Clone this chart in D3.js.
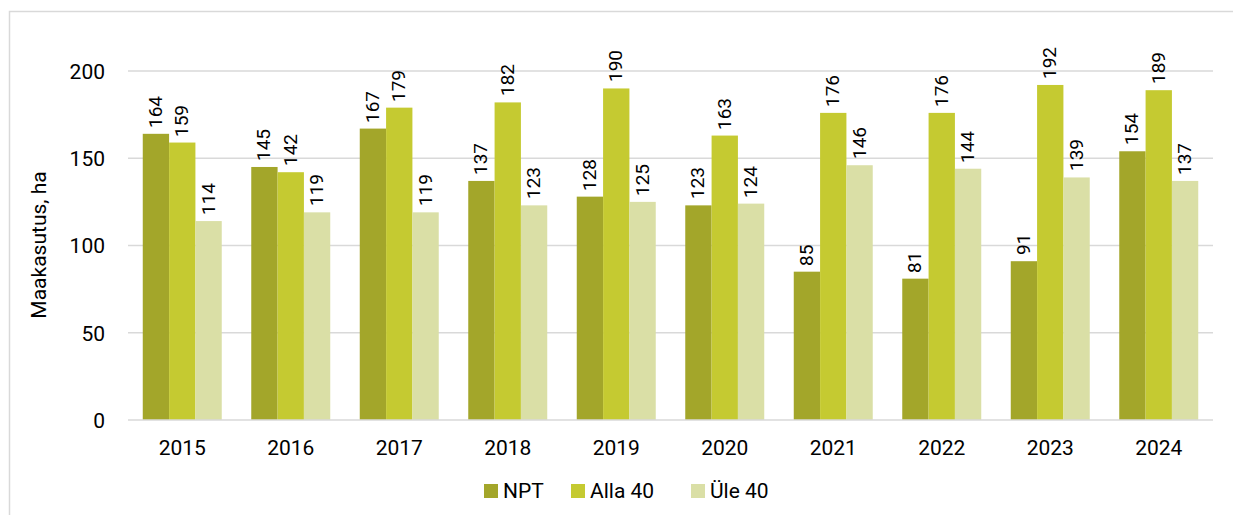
<!DOCTYPE html>
<html>
<head>
<meta charset="utf-8">
<script src="https://cdn.jsdelivr.net/npm/d3@7"></script>
<style>
  html, body { margin: 0; padding: 0; background: #fff; }
  #wrap { position: relative; width: 1233px; height: 515px; font-family: Roboto, "Liberation Sans", sans-serif; }
  svg { display: block; position: absolute; left: 0; top: 0; }
  svg text { fill: #000; }
  .vlabel {
    position: absolute; font-size: 19px; line-height: 1; color: #000; white-space: nowrap;
    transform-origin: 0 0; transform: rotate(-90deg);
  }
</style>
</head>
<body>
<div id="wrap"><svg id="chart" width="1233" height="515"></svg></div>
<script>
// Land use by year and applicant group
const years = ["2015", "2016", "2017", "2018", "2019", "2020", "2021", "2022", "2023", "2024"];
const seriesNames = ["NPT", "Alla 40", "Üle 40"];
const npt    = [164, 145, 167, 137, 128, 123, 85, 81, 91, 154];
const alla40 = [159, 142, 179, 182, 190, 163, 176, 176, 192, 189];
const yle40  = [114, 119, 119, 123, 125, 124, 146, 144, 139, 137];
const yTicks = [0, 50, 100, 150, 200];
const colors = ["#A3A62A", "#C5CA31", "#DADFA6"];

const seriesValues = [npt, alla40, yle40];
const rows = years.map((y, i) => ({ year: y, values: seriesValues.map(s => s[i]) }));

const svg = d3.select("#chart");

// outer frame
svg.append("rect")
  .attr("x", 9.5).attr("y", 11.5)
  .attr("width", 1240).attr("height", 520)
  .attr("fill", "none").attr("stroke", "#d9d9d9").attr("stroke-width", 1.5);

const plot = { left: 128, right: 1213, top: 71, bottom: 420 };

const x = d3.scaleBand().domain(years).range([plot.left, plot.right]).paddingInner(0.272).paddingOuter(0.136);
const xs = d3.scaleBand().domain(seriesNames).range([0, x.bandwidth()]);
const y = d3.scaleLinear().domain([0, 200]).range([plot.bottom, plot.top]);

// gridlines
svg.append("g").selectAll("line").data(yTicks.filter(t => t > 0)).join("line")
  .attr("x1", plot.left).attr("x2", plot.right)
  .attr("y1", d => y(d)).attr("y2", d => y(d))
  .attr("stroke", "#d9d9d9").attr("stroke-width", 1.5);

// y axis labels
const yAxis = d3.axisLeft(y).tickValues(yTicks).tickSize(0).tickPadding(0);
const yg = svg.append("g").attr("transform", `translate(${plot.left - 23},0)`).call(yAxis);
yg.attr("font-size", 21).attr("font-family", null);
yg.select(".domain").remove();
yg.selectAll("text").attr("dy", "0.35em");

// y title
svg.append("text")
  .attr("transform", "translate(46,245) rotate(-90)")
  .attr("text-anchor", "middle")
  .attr("font-size", 21)
  .text("Maakasutus, ha");

// bars
const flat = rows.flatMap(r => r.values.map((v, i) => ({ year: r.year, v, i })));
svg.append("g").selectAll("rect").data(flat).join("rect")
  .attr("x", d => x(d.year) + xs(seriesNames[d.i]))
  .attr("width", xs.bandwidth())
  .attr("y", d => y(d.v))
  .attr("height", d => y(0) - y(d.v))
  .attr("fill", d => colors[d.i]);

// value labels, rotated to read upwards (HTML overlay)
d3.select("#wrap").selectAll("div.vlabel").data(flat).join("div")
  .attr("class", "vlabel")
  .style("left", d => (x(d.year) + xs(seriesNames[d.i]) + xs.bandwidth() / 2 - 10) + "px")
  .style("top", d => (y(d.v) - 6) + "px")
  .text(d => d.v);

// x axis baseline
svg.append("line")
  .attr("x1", plot.left).attr("x2", plot.right)
  .attr("y1", y(0)).attr("y2", y(0))
  .attr("stroke", "#d9d9d9").attr("stroke-width", 1.5);

// x axis labels
const xAxis = d3.axisBottom(x).tickSize(0).tickPadding(0);
const xg = svg.append("g").attr("transform", `translate(0,${plot.bottom + 20})`).call(xAxis);
xg.attr("font-size", 21).attr("font-family", null);
xg.select(".domain").remove();
xg.selectAll("text").attr("dy", "0.71em");

// legend
const legendX = [484, 571, 691];
const lg = svg.append("g").selectAll("g").data(seriesNames).join("g")
  .attr("transform", (d, i) => `translate(${legendX[i]},484)`);
lg.append("rect").attr("width", 14).attr("height", 14).attr("fill", (d, i) => colors[i]);
lg.append("text").attr("x", 19).attr("y", 7).attr("dy", "0.35em")
  .attr("font-size", 21).text(d => d);
</script>
</body>
</html>
